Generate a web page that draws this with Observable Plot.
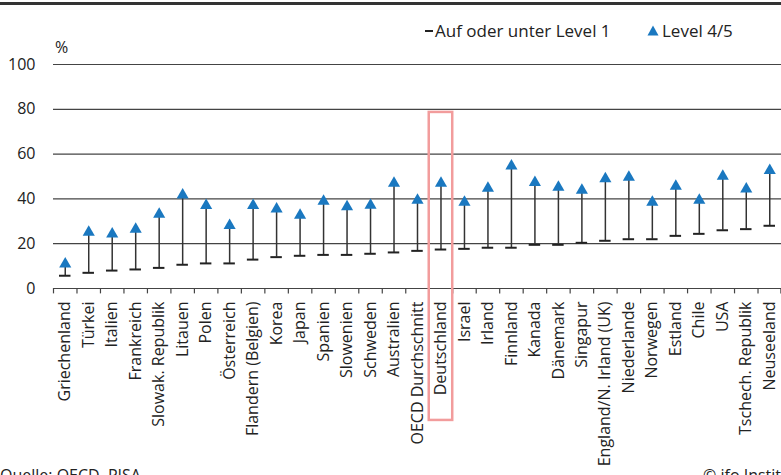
<!DOCTYPE html>
<html><head><meta charset="utf-8">
<script src="https://cdn.jsdelivr.net/npm/d3@7"></script>
<script src="https://cdn.jsdelivr.net/npm/@observablehq/plot@0.6"></script>
<style>
html,body{margin:0;padding:0;background:#fff;}
#wrap{position:relative;width:781px;height:475px;overflow:hidden;font-family:"Open Sans",sans-serif;color:#222;}
#wrap .t{position:absolute;font-size:16px;white-space:nowrap;line-height:1;}
#topline{position:absolute;left:0;top:2px;width:781px;height:3px;background:#333;}
#chart{position:absolute;left:0;top:0;}
</style></head>
<body><div id="wrap">
<div id="chart"></div>
<div id="topline"></div>
<div class="t" style="left:55px;top:39px;">%</div>
<div style="position:absolute;left:425px;top:30px;width:8px;height:2px;background:#222;"></div>
<div class="t" style="left:435px;top:22px;font-size:17px;">Auf oder unter Level 1</div>
<svg style="position:absolute;left:647px;top:25px;" width="12" height="11"><path d="M6,0.5L11.5,10.5L0.5,10.5Z" fill="#1a78c0"/></svg>
<div class="t" style="left:662px;top:22px;font-size:17px;">Level 4/5</div>
<div class="t" style="left:0px;top:467px;">Quelle: OECD, PISA</div>
<div class="t" style="left:703px;top:467px;">© ifo Institut</div>
</div>
<script>
const countries = ["Griechenland","Türkei","Italien","Frankreich","Slowak. Republik","Litauen","Polen","Österreich","Flandern (Belgien)","Korea","Japan","Spanien","Slowenien","Schweden","Australien","OECD Durchschnitt","Deutschland","Israel","Irland","Finnland","Kanada","Dänemark","Singapur","England/N. Irland (UK)","Niederlande","Norwegen","Estland","Chile","USA","Tschech. Republik","Neuseeland"];
const level1 = [5.7,7.0,8.0,8.5,9.2,10.6,11.2,11.2,12.9,14.0,14.6,15.0,15.0,15.5,16.1,16.8,17.4,17.7,18.2,18.2,19.5,19.5,20.4,21.3,22.0,22.0,23.5,24.4,26.0,26.5,28.0];
const level45 = [11.7,25.9,25.1,27.2,33.9,42.5,37.8,28.9,37.8,36.2,33.5,39.7,37.2,37.9,47.8,40.2,47.8,39.3,45.5,55.4,48.1,46.0,44.6,49.7,50.4,39.3,46.4,40.2,50.9,45.2,53.4];
const yTicks = [0,20,40,60,80,100];
const highlight = ["Deutschland"];
const highlightRange = [78.6, -58.9];

const data = countries.map((c,i)=>({country:c, low:level1[i], high:level45[i]}));
const W = 781, ML = 53, MR = 0;
const bw = (W-ML-MR)/countries.length;

const plot = Plot.plot({
  width: W, height: 475,
  marginTop: 64, marginBottom: 187, marginLeft: ML, marginRight: MR,
  style: {fontFamily: "'Open Sans', sans-serif", fontSize: "16px", color: "#222", background: "transparent"},
  x: {type: "band", domain: countries, padding: 0, round: false, label: null},
  y: {domain: [0,100], label: null},
  marks: [
    Plot.ruleY(yTicks.filter(d=>d>0), {stroke: "#444", strokeWidth: 1.2}),
    Plot.ruleY([0], {stroke: "#444", strokeWidth: 1.2}),
    Plot.ruleX(countries, {x: d=>d, y1: 0, y2: -2.4, dx: -bw/2, stroke: "#444", strokeWidth: 1.2}),
    Plot.ruleX([countries[countries.length-1]], {x: d=>d, y1: 0, y2: -2.4, dx: bw/2 - 0.6, stroke: "#444", strokeWidth: 1.2}),
    Plot.axisY(yTicks, {tickSize: 0, tickPadding: 18, fontSize: 16, fill: "#222"}),
    Plot.axisX({tickSize: 0, tickPadding: 13, tickRotate: -90, fontSize: 16, fill: "#222"}),
    Plot.ruleX(data, {x: "country", y1: "low", y2: "high", stroke: "#333", strokeWidth: 1.5}),
    Plot.tickY(data, {x: "country", y: "low", stroke: "#222", strokeWidth: 2, inset: 6}),
    Plot.dot(data, {x: "country", y: "high", symbol: "triangle", r: 4.5, fill: "#1a78c0", dy: 1.7}),
    Plot.barY(highlight, {x: d=>d, y1: highlightRange[0], y2: highlightRange[1], fill: "none", stroke: "#f29c9c", strokeWidth: 2.5})
  ]
});
document.getElementById("chart").appendChild(plot);
</script>
</body></html>
